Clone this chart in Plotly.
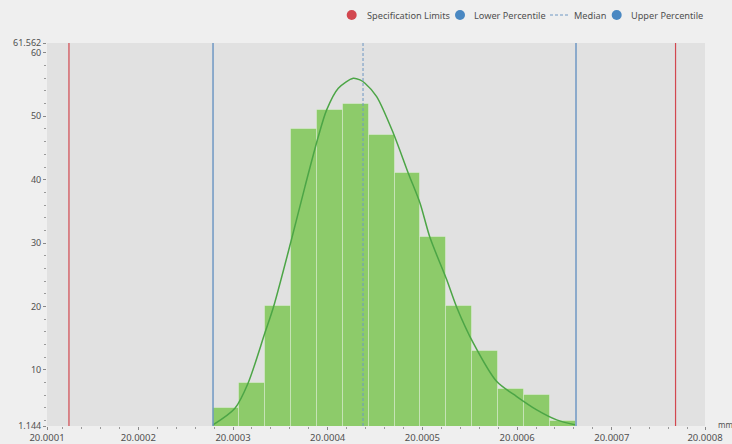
import plotly.graph_objects as go

# ---------------- data ----------------
bin_start = 20.0002789          # left edge of first bin (mm)
bin_width = 0.00002738          # width of each bin (mm)
counts = [4, 8, 20, 48, 51, 52, 47, 41, 31, 20, 13, 7, 6, 2]

curve_x = [20.0002789, 20.0003021, 20.0003159, 20.0003338, 20.0003426, 20.0003612,
           20.0003760, 20.0003901, 20.0003989, 20.0004112, 20.0004270, 20.0004341,
           20.0004394, 20.0004517, 20.0004693, 20.0004851, 20.0004975, 20.0005080,
           20.0005257, 20.0005362, 20.0005538, 20.0005785, 20.0005996, 20.0006207,
           20.0006418, 20.0006611]
curve_y = [1.33, 3.96, 7.90, 15.88, 19.83, 30.24, 38.91, 46.80, 51.01, 54.43, 56.01,
           55.74, 55.22, 53.11, 47.33, 41.03, 36.29, 30.87, 24.20, 19.89, 14.21, 8.15,
           5.79, 3.69, 2.11, 1.33]

spec_limits = [20.0001268, 20.0007673]
lower_percentile = 20.0002789
median = 20.0004373
upper_percentile = 20.0006622

x_min, x_max = 20.0001036, 20.0007984
y_min, y_max = 1.144, 61.562
x_tick_vals = [x_min, 20.0002, 20.0003, 20.0004, 20.0005, 20.0006, 20.0007, x_max]
x_tick_text = ["20.0001", "20.0002", "20.0003", "20.0004", "20.0005", "20.0006", "20.0007", "20.0008"]
y_tick_vals = [y_min, 10, 20, 30, 40, 50, 60, y_max]
y_tick_text = ["1.144", "10", "20", "30", "40", "50", "60", "61.562"]

legend_labels = ["Specification Limits", "Lower Percentile", "Median", "Upper Percentile"]

# ---------------- styling ----------------
W, H = 732, 444
ML, MR, MT, MB = 47, 27, 43, 18
PW, PH = W - ML - MR, H - MT - MB
RED = "#d2474f"
BLUE = "#4a88c2"
BLUE_LINE = "#6f98c4"
BAR = "#8dcb6a"
CURVE = "#4ca546"
TXT = "#505050"
FONT = "Noto Sans"

centers = [bin_start + bin_width * (i + 0.5) for i in range(len(counts))]

fig = go.Figure()
fig.add_trace(go.Bar(x=centers, y=counts, width=[bin_width] * len(counts),
                     marker=dict(color=BAR, line=dict(color="rgba(255,255,255,0.3)", width=1)),
                     showlegend=False, hoverinfo="skip"))
fig.add_trace(go.Scatter(x=curve_x, y=curve_y, mode="lines",
                         line=dict(color=CURVE, width=1.5, shape="spline", smoothing=0.8),
                         showlegend=False, hoverinfo="skip"))

# vertical reference lines
for s in spec_limits:
    fig.add_shape(type="line", x0=s, x1=s, y0=0, y1=1, xref="x", yref="paper",
                  line=dict(color=RED, width=1.2), layer="above")
for p in (lower_percentile, upper_percentile):
    fig.add_shape(type="line", x0=p, x1=p, y0=0, y1=1, xref="x", yref="paper",
                  line=dict(color=BLUE_LINE, width=1.5), layer="above")
fig.add_shape(type="line", x0=median, x1=median, y0=0, y1=1, xref="x", yref="paper",
              line=dict(color=BLUE_LINE, width=1, dash="3px,2px"), layer="above")

# manual legend (pixel positions converted to paper coords)
def px_x(px):
    return (px - ML) / PW

def px_y(py):
    return (H - MB - py) / PH

leg_y = 15
items = [("circle", RED, 351.7, 365.0), ("circle", BLUE, 460, 472),
         ("dash", BLUE_LINE, 559, 572), ("circle", BLUE, 616.7, 629)]
for (kind, col, cx, tx), label in zip(items, legend_labels):
    if kind == "circle":
        r = 5
        fig.add_shape(type="circle", xref="paper", yref="paper",
                      x0=px_x(cx - r), x1=px_x(cx + r), y0=px_y(leg_y + r), y1=px_y(leg_y - r),
                      fillcolor=col, line=dict(width=0))
    else:
        fig.add_shape(type="line", xref="paper", yref="paper",
                      x0=px_x(cx - 9), x1=px_x(cx + 9), y0=px_y(leg_y), y1=px_y(leg_y),
                      line=dict(color=col, width=1, dash="3px,2px"))
    fig.add_annotation(text=label, x=px_x(tx), y=px_y(leg_y), xref="paper", yref="paper",
                       xanchor="left", yanchor="middle", showarrow=False,
                       font=dict(family=FONT, size=9.2, color=TXT))

fig.add_annotation(text="mm", x=px_x(716), y=px_y(424), xref="paper", yref="paper",
                   xanchor="left", yanchor="middle", showarrow=False,
                   font=dict(family=FONT, size=8, color=TXT))

fig.update_layout(
    width=W, height=H,
    margin=dict(l=ML, r=MR, t=MT, b=MB, pad=0, autoexpand=False),
    paper_bgcolor="#efefef", plot_bgcolor="#e1e1e1",
    bargap=0, showlegend=False,
    font=dict(family=FONT, size=10, color=TXT),
)
fig.update_xaxes(range=[x_min, x_max], tickmode="array", tickvals=x_tick_vals, ticktext=x_tick_text,
                 showgrid=False, zeroline=False, showline=False, automargin=False,
                 ticks="outside", ticklen=3, tickcolor="#888", tickfont=dict(size=9.5, color=TXT),
                 minor=dict(tickmode="array",
                            tickvals=[20.0001 + 0.00002 * i for i in range(1, 36)],
                            ticks="outside", ticklen=2, tickcolor="#999", showgrid=False))
fig.update_yaxes(range=[y_min, y_max], tickmode="array", tickvals=y_tick_vals, ticktext=y_tick_text,
                 showgrid=False, zeroline=False, showline=False, automargin=False,
                 ticks="outside", ticklen=3, tickcolor="#888", tickfont=dict(size=9, color=TXT),
                 minor=dict(tickmode="array", tickvals=[2 * i for i in range(1, 31)],
                            ticks="outside", ticklen=2, tickcolor="#999", showgrid=False))

fig.write_html("out.html", config={"displayModeBar": False},
               post_script="document.body.style.margin='0';document.body.style.overflow='hidden';")
